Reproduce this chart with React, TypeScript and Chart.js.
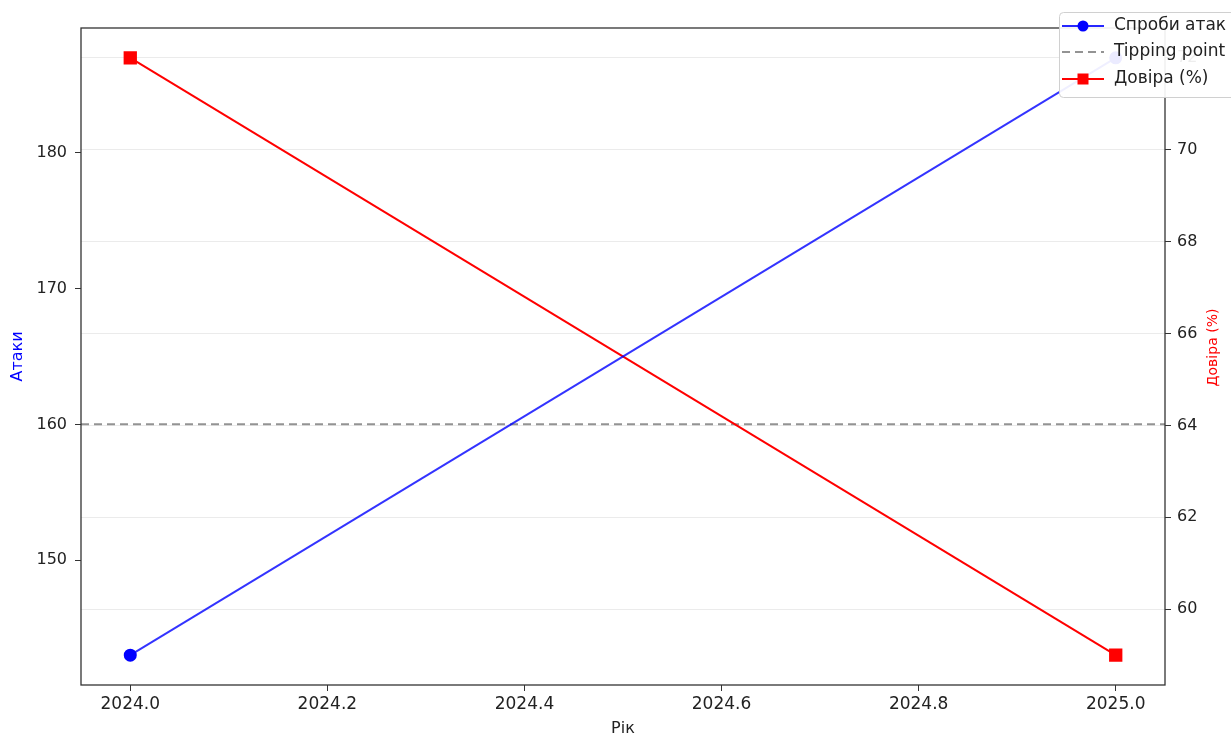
import React, { useEffect, useRef } from "react";
import { Chart, registerables } from "chart.js";

Chart.register(...registerables);

const years = [2024, 2025];
const attacks = [143, 187];
const trust = [72, 59];
const tippingPoint = 160;
const xTicks = [2024.0, 2024.2, 2024.4, 2024.6, 2024.8, 2025.0];
const leftTicks = [150, 160, 170, 180];
const rightTicks = [60, 62, 64, 66, 68, 70, 72];
const legendLabels = ["Спроби атак", "Tipping point", "Довіра (%)"];
const xTitle = "Рік";
const leftTitle = "Атаки";
const rightTitle = "Довіра (%)";

const FONT = "'DejaVu Sans', sans-serif";

export default function App() {
  const ref = useRef<HTMLCanvasElement | null>(null);
  useEffect(() => {
    document.body.style.margin = "0";
    const canvas = ref.current!;
    const overlay = {
      id: "overlay",
      beforeDatasetsDraw(chart: any) {
        const { ctx, chartArea } = chart;
        const y = chart.scales.y.getPixelForValue(tippingPoint);
        ctx.save();
        ctx.strokeStyle = "rgba(128,128,128,0.85)";
        ctx.lineWidth = 2;
        ctx.setLineDash([8, 5]);
        ctx.beginPath();
        ctx.moveTo(chartArea.left, y);
        ctx.lineTo(chartArea.right, y);
        ctx.stroke();
        ctx.restore();
      },
      afterDraw(chart: any) {
        const { ctx, chartArea } = chart;
        ctx.save();
        // frame
        ctx.strokeStyle = "#333";
        ctx.lineWidth = 1.3;
        ctx.strokeRect(chartArea.left, chartArea.top, chartArea.right - chartArea.left, chartArea.bottom - chartArea.top);
        // right title (ccw)
        ctx.save();
        ctx.translate(1213, (chartArea.top + chartArea.bottom) / 2 - 9);
        ctx.rotate(-Math.PI / 2);
        ctx.fillStyle = "red";
        ctx.font = `14px ${FONT}`;
        ctx.textAlign = "center";
        ctx.textBaseline = "middle";
        ctx.fillText(rightTitle, 0, 0);
        ctx.restore();
        // legend
        const bx = 1059, by = 12, bw = 200, bh = 85;
        ctx.fillStyle = "rgba(255,255,255,0.92)";
        ctx.strokeStyle = "#d0d0d0";
        ctx.lineWidth = 1;
        ctx.beginPath();
        (ctx as any).roundRect(bx + 0.5, by + 0.5, bw, bh, 4);
        ctx.fill();
        ctx.stroke();
        const rows = [26, 52, 79];
        const hx1 = 1062, hx2 = 1104, mx = 1083;
        // row 1: blue circle
        ctx.lineWidth = 2;
        ctx.strokeStyle = "rgba(0,0,255,0.85)";
        ctx.beginPath(); ctx.moveTo(hx1, rows[0]); ctx.lineTo(hx2, rows[0]); ctx.stroke();
        ctx.fillStyle = "blue";
        ctx.beginPath(); ctx.arc(mx, rows[0], 5.5, 0, Math.PI * 2); ctx.fill();
        // row 2: dashed gray
        ctx.strokeStyle = "rgba(128,128,128,0.85)";
        ctx.setLineDash([8, 5]);
        ctx.beginPath(); ctx.moveTo(hx1, rows[1]); ctx.lineTo(hx2, rows[1]); ctx.stroke();
        ctx.setLineDash([]);
        // row 3: red square
        ctx.strokeStyle = "red";
        ctx.beginPath(); ctx.moveTo(hx1, rows[2]); ctx.lineTo(hx2, rows[2]); ctx.stroke();
        ctx.fillStyle = "red";
        ctx.fillRect(mx - 5.5, rows[2] - 5.5, 11, 11);
        ctx.fillStyle = "#222";
        ctx.font = `17px ${FONT}`;
        ctx.textAlign = "left";
        ctx.textBaseline = "middle";
        legendLabels.forEach((t, i) => ctx.fillText(t, 1114, rows[i]));
        ctx.restore();
      },
    };
    const chart = new Chart(canvas, {
      type: "line",
      data: {
        datasets: [
          {
            label: legendLabels[0],
            data: years.map((x, i) => ({ x, y: attacks[i] })),
            borderColor: "rgba(0,0,255,0.8)",
            backgroundColor: "blue",
            pointBackgroundColor: "blue",
            pointBorderColor: "blue",
            pointRadius: 5.5,
            pointStyle: "circle",
            borderWidth: 2,
            yAxisID: "y",
            clip: false as any,
          },
          {
            label: legendLabels[2],
            data: years.map((x, i) => ({ x, y: trust[i] })),
            borderColor: "red",
            backgroundColor: "red",
            pointBackgroundColor: "red",
            pointBorderColor: "red",
            pointRadius: 8,
            pointStyle: "rect",
            borderWidth: 2,
            yAxisID: "y1",
            clip: false as any,
          },
        ],
      },
      options: {
        animation: false,
        responsive: false,
        devicePixelRatio: 1,
        layout: { padding: { top: 28, left: 0, right: 0, bottom: 0 } },
        plugins: { legend: { display: false }, tooltip: { enabled: false } },
        scales: {
          x: {
            type: "linear",
            position: "bottom",
            min: 2023.95,
            max: 2025.05,
            afterBuildTicks: (s: any) => { s.ticks = xTicks.map((v) => ({ value: v })); },
            afterFit: (s: any) => { s.height = 50; },
            ticks: {
              color: "#222",
              font: { family: FONT, size: 17 },
              padding: 3,
              maxRotation: 0,
              autoSkip: false,
              callback: (v: any) => Number(v).toFixed(1),
            },
            grid: { drawOnChartArea: false, tickLength: 6, color: "#333", tickColor: "#333" },
            border: { display: false },
            title: { display: true, text: xTitle, color: "#222", font: { family: FONT, size: 16 }, padding: { top: 0, bottom: -3 } },
          },
          y: {
            type: "linear",
            position: "left",
            min: 140.8,
            max: 189.2,
            afterBuildTicks: (s: any) => { s.ticks = leftTicks.map((v) => ({ value: v })); },
            afterFit: (s: any) => { s.width = 81; },
            ticks: { color: "#222", font: { family: FONT, size: 16 }, padding: 8 },
            grid: { drawOnChartArea: false, tickLength: 6, color: "#333", tickColor: "#333" },
            border: { display: false },
            title: { display: true, text: leftTitle, color: "blue", font: { family: FONT, size: 16 }, padding: { top: 8, bottom: 0 } },
          },
          y1: {
            type: "linear",
            position: "right",
            min: 58.35,
            max: 72.65,
            afterBuildTicks: (s: any) => { s.ticks = rightTicks.map((v) => ({ value: v })); },
            afterFit: (s: any) => { s.width = 66; },
            ticks: { color: "#222", font: { family: FONT, size: 16 }, padding: 6 },
            grid: { drawOnChartArea: true, tickLength: 6, color: "rgba(0,0,0,0.08)", tickColor: "#333" },
            border: { display: false },
            title: { display: false },
          },
        },
      },
      plugins: [overlay],
    } as any);
    return () => chart.destroy();
  }, []);
  return (
    <div style={{ position: "fixed", left: 0, top: 0, width: 1231, height: 735, background: "#fff" }}>
      <canvas ref={ref} width={1231} height={735} style={{ width: 1231, height: 735, display: "block" }} />
    </div>
  );
}
